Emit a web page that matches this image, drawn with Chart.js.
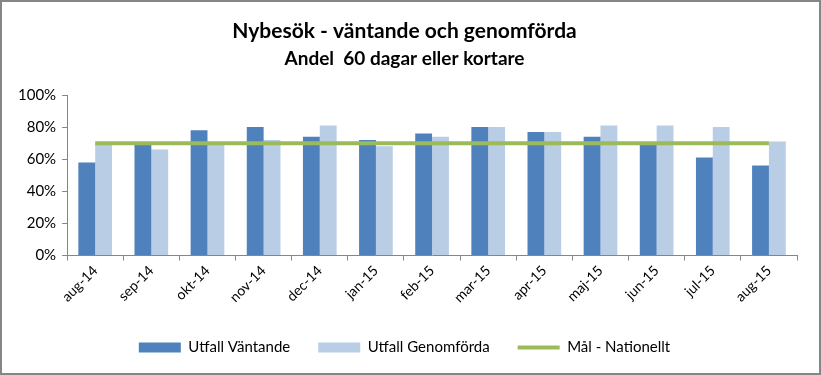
<!DOCTYPE html>
<html>
<head>
<meta charset="utf-8">
<script src="https://cdn.jsdelivr.net/npm/chart.js@4"></script>
<style>
  html, body { margin: 0; padding: 0; background: #fff; }
  #wrap { width: 821px; height: 375px; box-sizing: border-box; border: 2px solid #868686; position: relative; }
  canvas { display: block; }
</style>
</head>
<body>
<div id="wrap"><canvas id="chart" width="817" height="371"></canvas></div>
<script>
const months = ["aug-14","sep-14","okt-14","nov-14","dec-14","jan-15","feb-15","mar-15","apr-15","maj-15","jun-15","jul-15","aug-15"];
const vantande = [58, 69, 78, 80, 74, 72, 76, 80, 77, 74, 69, 61, 56];
const genomforda = [70, 66, 70, 72, 81, 68, 74, 80, 77, 81, 81, 80, 71];
const malNationellt = [70, 70, 70, 70, 70, 70, 70, 70, 70, 70, 70, 70, 70];
const yTicks = [0, 20, 40, 60, 80, 100];

const FONT = "Lato, 'Open Sans', sans-serif";
const legendStyles = ['rect', 'rect', 'line'];

new Chart(document.getElementById('chart'), {
  type: 'bar',
  data: {
    labels: months,
    datasets: [
      { label: 'Utfall Väntande', data: vantande, backgroundColor: '#4F81BD', borderWidth: 0, categoryPercentage: 0.6, barPercentage: 1, order: 2 },
      { label: 'Utfall Genomförda', data: genomforda, backgroundColor: '#B9CDE5', borderWidth: 0, categoryPercentage: 0.6, barPercentage: 1, order: 2 },
      { type: 'line', label: 'Mål - Nationellt', data: malNationellt, borderColor: '#9BBB59', backgroundColor: '#9BBB59', borderWidth: 4, pointRadius: 0, fill: false, order: 1 }
    ]
  },
  options: {
    responsive: false,
    animation: false,
    layout: { padding: { left: 10, right: 22, top: 8, bottom: 8 } },
    plugins: {
      title: { display: true, text: 'Nybesök - väntande och genomförda', color: '#000', font: { family: FONT, size: 21, weight: 'bold' }, padding: { top: 9, bottom: 3 } },
      subtitle: { display: true, text: 'Andel  60 dagar eller kortare', color: '#000', font: { family: FONT, size: 19, weight: 'bold' }, padding: { top: 0, bottom: 25 } },
      legend: {
        position: 'bottom',
        labels: {
          color: '#000',
          font: { family: FONT, size: 15 },
          usePointStyle: true,
          pointStyleWidth: 42,
          boxHeight: 10,
          padding: 28,
          sort: (a, b) => a.datasetIndex - b.datasetIndex,
          generateLabels(chart) {
            const items = Chart.defaults.plugins.legend.labels.generateLabels(chart);
            items.forEach(it => { it.pointStyle = legendStyles[it.datasetIndex]; if (it.datasetIndex < 2) it.lineWidth = 0; });
            return items;
          }
        }
      },
      tooltip: { enabled: false }
    },
    scales: {
      x: {
        afterFit(axis) { axis.height += 4; },
        grid: { display: true, drawOnChartArea: false, drawTicks: true, tickLength: 5, color: '#868686' },
        border: { color: '#868686', width: 1 },
        ticks: { color: '#000', font: { family: FONT, size: 14 }, maxRotation: 45, minRotation: 45, padding: 2 }
      },
      y: {
        min: 0, max: 100,
        afterBuildTicks(axis) { axis.ticks = yTicks.map(v => ({ value: v })); },
        grid: { display: true, drawOnChartArea: false, drawTicks: true, tickLength: 5, color: '#868686' },
        border: { color: '#868686', width: 1 },
        ticks: { color: '#000', font: { family: FONT, size: 15 }, padding: 6, callback: v => v + '%' }
      }
    }
  }
});
</script>
</body>
</html>
